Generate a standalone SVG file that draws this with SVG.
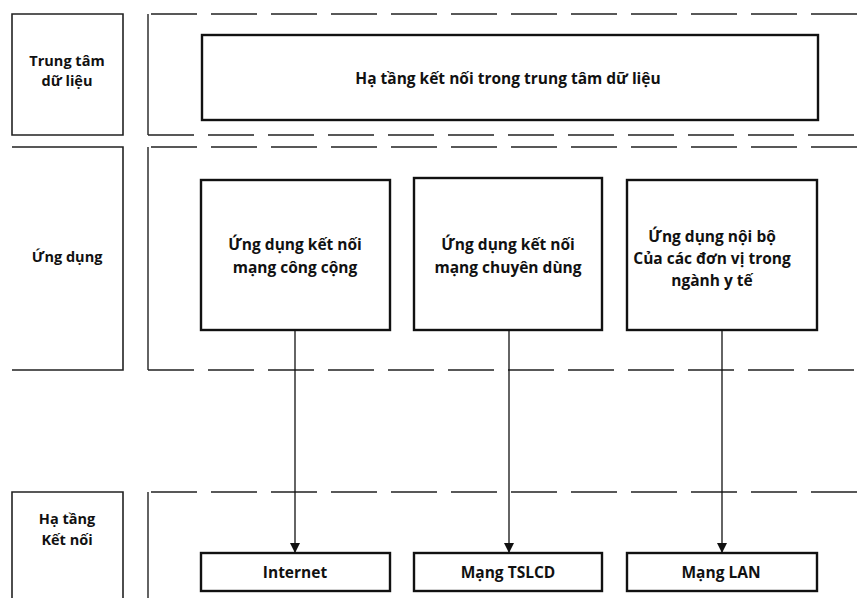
<svg xmlns="http://www.w3.org/2000/svg" width="857" height="598" viewBox="0 0 857 598">
<style>
text{font-family:"Open Sans","Liberation Sans",sans-serif;font-weight:bold;font-size:15.5px;fill:#111;text-anchor:middle}
.sm{font-size:14.5px}
.lbl{fill:none;stroke:#222;stroke-width:1.6}
.frame{fill:none;stroke:#222;stroke-width:1.6;stroke-dasharray:46 14}
.fside{fill:none;stroke:#222;stroke-width:1.4}
.box{fill:#fff;stroke:#111;stroke-width:2.4}
.con{stroke:#111;stroke-width:1.3;fill:none}
</style>
<defs>
<marker id="ah" markerWidth="10" markerHeight="10" refX="9" refY="5" orient="auto" markerUnits="userSpaceOnUse">
<path d="M0,0 L10,5 L0,10 Z" fill="#111"/>
</marker>
</defs>
<rect width="857" height="598" fill="#fff"/>
<g id="row-label-datacenter">
<path class="lbl" d="M12,14 H123 V135 H12 Z"/>
<text class="sm" x="67" y="66">Trung tâm</text>
<text class="sm" x="67" y="86">dữ liệu</text>
</g>
<g id="row-label-app">
<path class="lbl" d="M12,147 H123 V370 H12"/>
<text class="sm" x="67" y="262">Ứng dụng</text>
</g>
<g id="row-label-infra">
<path class="lbl" d="M12,598 V492 H123 V598"/>
<text class="sm" x="67" y="524">Hạ tầng</text>
<text class="sm" x="67" y="545">Kết nối</text>
</g>
<g id="frame-datacenter"><path class="frame" d="M857,14 H148"/><path class="fside" d="M148,14 V135"/><path class="frame" d="M148,135 H857"/></g>
<g id="frame-app"><path class="frame" d="M857,147 H148"/><path class="fside" d="M148,147 V370"/><path class="frame" d="M148,370 H857"/></g>
<g id="frame-infra"><path class="frame" d="M857,492 H148"/><path class="fside" d="M148,492 V598"/></g>
<g id="dc-infra">
<rect class="box" x="202" y="35" width="616" height="85"/>
<text x="508" y="84">Hạ tầng kết nối trong trung tâm dữ liệu</text>
</g>
<g id="app-public">
<rect class="box" x="201" y="180" width="189" height="150"/>
<text x="295" y="250">Ứng dụng kết nối</text>
<text x="295" y="273">mạng công cộng</text>
</g>
<g id="app-private">
<rect class="box" x="414" y="178" width="188" height="152"/>
<text x="508" y="250">Ứng dụng kết nối</text>
<text x="508" y="273">mạng chuyên dùng</text>
</g>
<g id="app-internal">
<rect class="box" x="627" y="180" width="190" height="150"/>
<text x="712" y="242">Ứng dụng nội bộ</text>
<text x="712" y="264">Của các đơn vị trong</text>
<text x="712" y="286">ngành y tế</text>
</g>
<g id="net-internet">
<rect class="box" x="201" y="553" width="189" height="38"/>
<text x="295" y="578">Internet</text>
</g>
<g id="net-tslcd">
<rect class="box" x="414" y="553" width="188" height="38"/>
<text x="508" y="578">Mạng TSLCD</text>
</g>
<g id="net-lan">
<rect class="box" x="627" y="553" width="190" height="38"/>
<text x="721" y="578">Mạng LAN</text>
</g>
<g id="connectors">
<line class="con" x1="295" y1="331" x2="295" y2="552" marker-end="url(#ah)"/>
<line class="con" x1="509" y1="331" x2="509" y2="552" marker-end="url(#ah)"/>
<line class="con" x1="722" y1="331" x2="722" y2="552" marker-end="url(#ah)"/>
</g>
</svg>
